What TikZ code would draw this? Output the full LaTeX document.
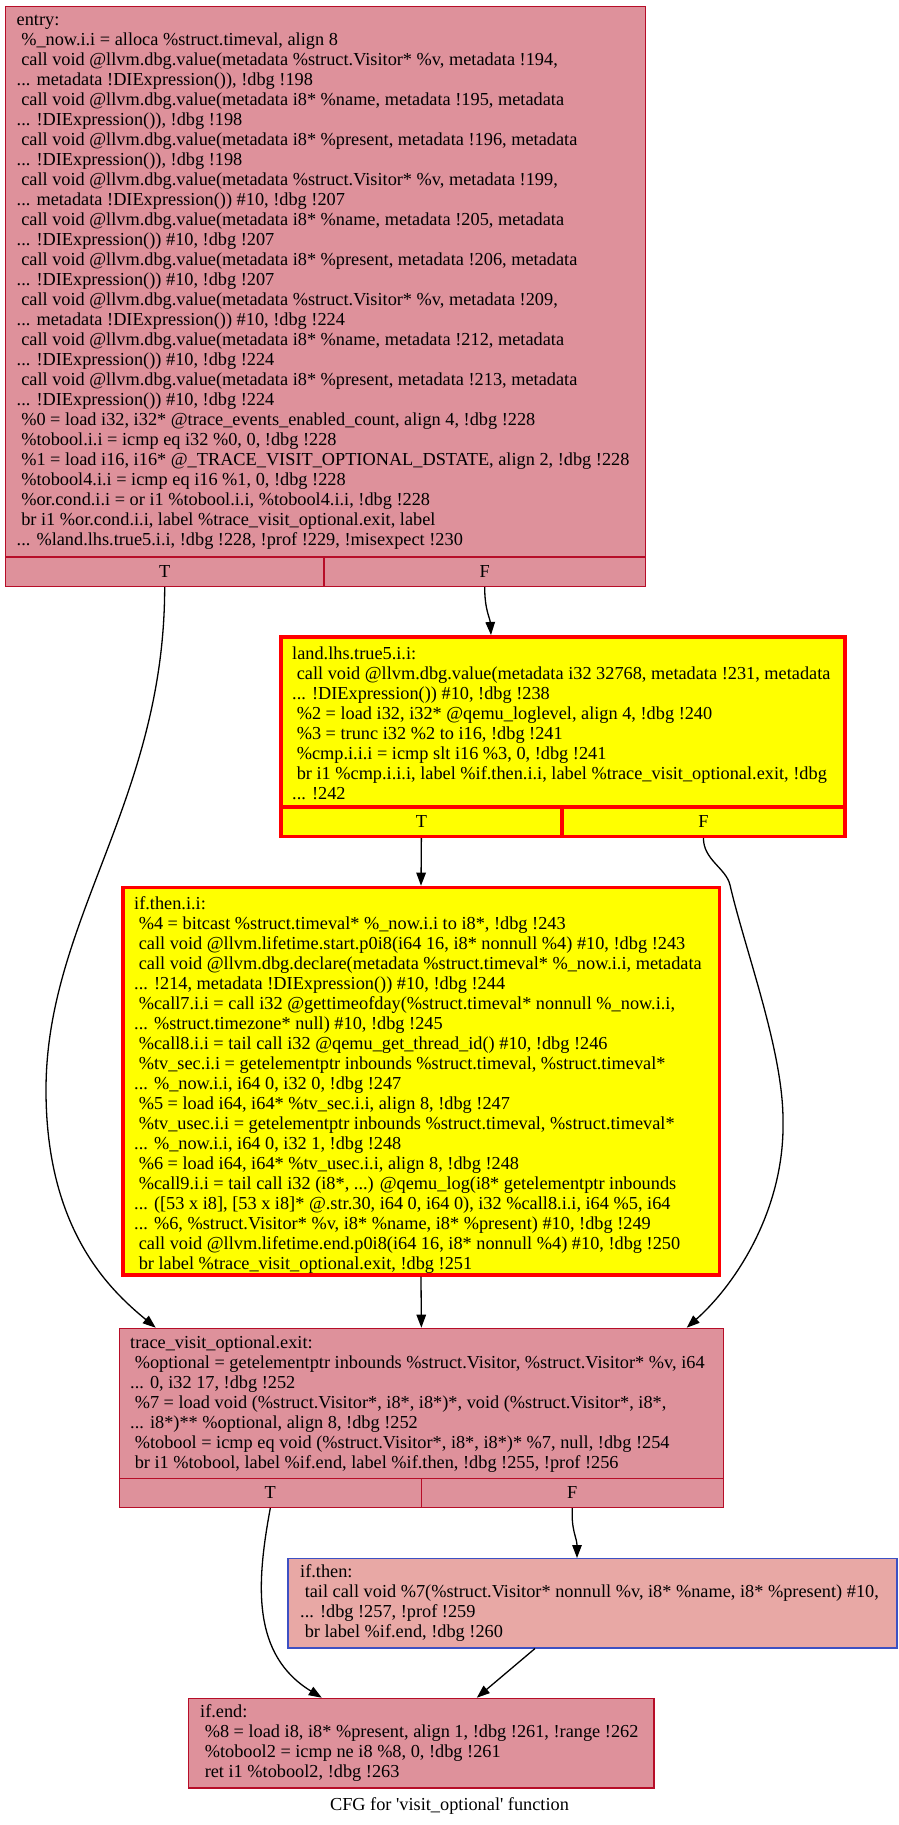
\documentclass[tikz,border=0pt]{standalone}
\usepackage{fontspec}
\newfontfamily\cfgfont{Liberation Serif}[Ligatures=TeXOff]
\usetikzlibrary{arrows.meta,fit,calc}
\definecolor{heatborder}{HTML}{B70D28}
\definecolor{heatfill}{RGB}{222,145,155}
\definecolor{warmfill}{RGB}{232,168,165}
\definecolor{coolborder}{HTML}{3D50C3}
\definecolor{hotfill}{RGB}{255,255,0}
\definecolor{hotborder}{RGB}{255,0,0}
\newcommand\cfgtext{\cfgfont\fontsize{18.3}{20}\selectfont}
\newcommand\cfgind{\hspace*{0.25em}}
\tikzset{
  blk/.style={draw=heatborder, fill=heatfill, line width=1.3pt, inner sep=0pt},
  hot/.style={draw=hotborder, fill=hotfill, line width=3.5pt, inner sep=0pt},
  warm/.style={draw=coolborder, fill=warmfill, line width=1.3pt, inner sep=0pt},
  code/.style={inner sep=0pt, anchor=north west, align=left, font=\cfgtext},
  lbl/.style={inner sep=0pt, anchor=center, font=\cfgtext},
  edge/.style={draw=black, line width=1.3pt, -{Triangle[length=13pt,width=9.5pt]}},
}
\begin{document}
\begin{tikzpicture}[x=1pt, y=-1pt]
\useasboundingbox (0,0) rectangle (899,1825);

% ---------------- entry
\node[blk, fit={(5.35,6.65) (645.35,557)}] (entry) {};
\node[blk, fit={(5.35,557) (324,586.35)}] (eT) {};
\node[blk, fit={(324,557) (645.35,586.35)}] (eF) {};
\node[lbl] (eTl) at (eT.center) {T};
\node[lbl] (eFl) at (eF.center) {F};
\node[code] (entrytxt) at (16.5,11.7) {\strut entry:\\
\cfgind\%\_now.i.i = alloca \%struct.timeval, align 8\\
\cfgind call void @llvm.dbg.value(metadata \%struct.Visitor* \%v, metadata !194,\\
... metadata !DIExpression()), !dbg !198\\
\cfgind call void @llvm.dbg.value(metadata i8* \%name, metadata !195, metadata\\
... !DIExpression()), !dbg !198\\
\cfgind call void @llvm.dbg.value(metadata i8* \%present, metadata !196, metadata\\
... !DIExpression()), !dbg !198\\
\cfgind call void @llvm.dbg.value(metadata \%struct.Visitor* \%v, metadata !199,\\
... metadata !DIExpression()) \#10, !dbg !207\\
\cfgind call void @llvm.dbg.value(metadata i8* \%name, metadata !205, metadata\\
... !DIExpression()) \#10, !dbg !207\\
\cfgind call void @llvm.dbg.value(metadata i8* \%present, metadata !206, metadata\\
... !DIExpression()) \#10, !dbg !207\\
\cfgind call void @llvm.dbg.value(metadata \%struct.Visitor* \%v, metadata !209,\\
... metadata !DIExpression()) \#10, !dbg !224\\
\cfgind call void @llvm.dbg.value(metadata i8* \%name, metadata !212, metadata\\
... !DIExpression()) \#10, !dbg !224\\
\cfgind call void @llvm.dbg.value(metadata i8* \%present, metadata !213, metadata\\
... !DIExpression()) \#10, !dbg !224\\
\cfgind\%0 = load i32, i32* @trace\_events\_enabled\_count, align 4, !dbg !228\\
\cfgind\%tobool.i.i = icmp eq i32 \%0, 0, !dbg !228\\
\cfgind\%1 = load i16, i16* @\_TRACE\_VISIT\_OPTIONAL\_DSTATE, align 2, !dbg !228\\
\cfgind\%tobool4.i.i = icmp eq i16 \%1, 0, !dbg !228\\
\cfgind\%or.cond.i.i = or i1 \%tobool.i.i, \%tobool4.i.i, !dbg !228\\
\cfgind br i1 \%or.cond.i.i, label \%trace\_visit\_optional.exit, label\\
... \%land.lhs.true5.i.i, !dbg !228, !prof !229, !misexpect !230};

% ---------------- land.lhs.true5.i.i
\node[hot, fit={(280.75,636.75) (844.85,807)}] (land) {};
\node[hot, fit={(280.75,807) (562,836.25)}] (lT) {};
\node[hot, fit={(562,807) (844.85,836.25)}] (lF) {};
\node[lbl] (lTl) at (lT.center) {T};
\node[lbl] (lFl) at (lF.center) {F};
\node[code] (landtxt) at (292,645) {\strut land.lhs.true5.i.i:\\
\cfgind call void @llvm.dbg.value(metadata i32 32768, metadata !231, metadata\\
... !DIExpression()) \#10, !dbg !238\\
\cfgind\%2 = load i32, i32* @qemu\_loglevel, align 4, !dbg !240\\
\cfgind\%3 = trunc i32 \%2 to i16, !dbg !241\\
\cfgind\%cmp.i.i.i = icmp slt i16 \%3, 0, !dbg !241\\
\cfgind br i1 \%cmp.i.i.i, label \%if.then.i.i, label \%trace\_visit\_optional.exit, !dbg\\
... !242};

% ---------------- if.then.i.i
\node[hot, fit={(122.75,887.45) (719.25,1274.95)}] (itt) {};
\node[code] (itttxt) at (134,895) {\strut if.then.i.i:\\
\cfgind\%4 = bitcast \%struct.timeval* \%\_now.i.i to i8*, !dbg !243\\
\cfgind call void @llvm.lifetime.start.p0i8(i64 16, i8* nonnull \%4) \#10, !dbg !243\\
\cfgind call void @llvm.dbg.declare(metadata \%struct.timeval* \%\_now.i.i, metadata\\
... !214, metadata !DIExpression()) \#10, !dbg !244\\
\cfgind\%call7.i.i = call i32 @gettimeofday(\%struct.timeval* nonnull \%\_now.i.i,\\
... \%struct.timezone* null) \#10, !dbg !245\\
\cfgind\%call8.i.i = tail call i32 @qemu\_get\_thread\_id() \#10, !dbg !246\\
\cfgind\%tv\_sec.i.i = getelementptr inbounds \%struct.timeval, \%struct.timeval*\\
... \%\_now.i.i, i64 0, i32 0, !dbg !247\\
\cfgind\%5 = load i64, i64* \%tv\_sec.i.i, align 8, !dbg !247\\
\cfgind\%tv\_usec.i.i = getelementptr inbounds \%struct.timeval, \%struct.timeval*\\
... \%\_now.i.i, i64 0, i32 1, !dbg !248\\
\cfgind\%6 = load i64, i64* \%tv\_usec.i.i, align 8, !dbg !248\\
\cfgind\%call9.i.i = tail call i32 (i8*, ...) @qemu\_log(i8* getelementptr inbounds\\
... ([53 x i8], [53 x i8]* @.str.30, i64 0, i64 0), i32 \%call8.i.i, i64 \%5, i64\\
... \%6, \%struct.Visitor* \%v, i8* \%name, i8* \%present) \#10, !dbg !249\\
\cfgind call void @llvm.lifetime.end.p0i8(i64 16, i8* nonnull \%4) \#10, !dbg !250\\
\cfgind br label \%trace\_visit\_optional.exit, !dbg !251};

% ---------------- trace_visit_optional.exit
\node[blk, fit={(119.35,1328.35) (723.35,1478.5)}] (trace) {};
\node[blk, fit={(119.35,1478.5) (421.3,1507.35)}] (tT) {};
\node[blk, fit={(421.3,1478.5) (723.35,1507.35)}] (tF) {};
\node[lbl] (tTl) at (tT.center) {T};
\node[lbl] (tFl) at (tF.center) {F};
\node[code] (tracetxt) at (130,1334) {\strut trace\_visit\_optional.exit:\\
\cfgind\%optional = getelementptr inbounds \%struct.Visitor, \%struct.Visitor* \%v, i64\\
... 0, i32 17, !dbg !252\\
\cfgind\%7 = load void (\%struct.Visitor*, i8*, i8*)*, void (\%struct.Visitor*, i8*,\\
... i8*)** \%optional, align 8, !dbg !252\\
\cfgind\%tobool = icmp eq void (\%struct.Visitor*, i8*, i8*)* \%7, null, !dbg !254\\
\cfgind br i1 \%tobool, label \%if.end, label \%if.then, !dbg !255, !prof !256};

% ---------------- if.then
\node[warm, fit={(288.05,1558.65) (896.85,1647.85)}] (ifthen) {};
\node[code] (ifthentxt) at (300,1563.3) {\strut if.then:\\
\cfgind tail call void \%7(\%struct.Visitor* nonnull \%v, i8* \%name, i8* \%present) \#10,\\
... !dbg !257, !prof !259\\
\cfgind br label \%if.end, !dbg !260};

% ---------------- if.end
\node[blk, fit={(188.45,1698.35) (654.05,1787.85)}] (ifend) {};
\node[code] (ifendtxt) at (200,1703.7) {\strut if.end:\\
\cfgind\%8 = load i8, i8* \%present, align 1, !dbg !261, !range !262\\
\cfgind\%tobool2 = icmp ne i8 \%8, 0, !dbg !261\\
\cfgind ret i1 \%tobool2, !dbg !263};

% ---------------- caption
\node[inner sep=0pt, anchor=base, font=\cfgtext] (caption) at (449.5,1810) {CFG for 'visit\_optional' function};

% ---------------- edges
\draw[edge] (eT.south) .. controls (164.7,800) and (46,920) .. (46,1090)
  .. controls (46,1230) and (110,1290) .. ($(trace.north west)+(37,0)$);
\draw[edge] (eF.south) .. controls (484.7,610) and (490,618) .. ($(land.north west)+(212,0)$);
\draw[edge] (lT.south) -- (itt.north);
\draw[edge] (lF.south) .. controls (703.4,860) and (726,868) .. (730,885)
  .. controls (745,950) and (783,1050) .. (783,1120)
  .. controls (785,1210) and (735,1285) .. ($(trace.north west)+(568,0)$);
\draw[edge] (itt.south) -- (trace.north);
\draw[edge] (tT.south) .. controls (256,1585) and (252,1655) .. ($(ifend.north west)+(134,0)$);
\draw[edge] (tF.south) .. controls (571,1530) and (577,1538) .. ($(ifthen.north west)+(289.6,0)$);
\draw[edge] ($(ifthen.south west)+(247.6,0)$) -- ($(ifend.north west)+(289,0)$);
\end{tikzpicture}
\end{document}
